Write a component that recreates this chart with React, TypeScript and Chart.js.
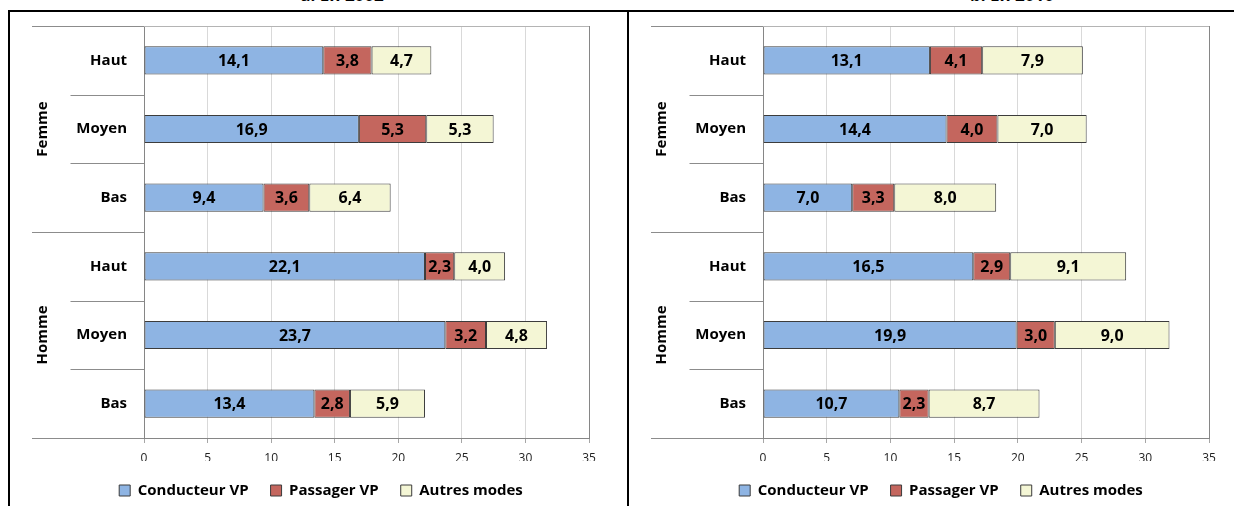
import React, { useEffect, useRef } from "react";
import { Chart, registerables } from "chart.js";

Chart.register(...registerables);

const categories = ["Haut", "Moyen", "Bas", "Haut", "Moyen", "Bas"];
const groups = ["Femme", "Homme"];
const seriesNames = ["Conducteur VP", "Passager VP", "Autres modes"];
const xTicks = [0, 5, 10, 15, 20, 25, 30, 35];
const panelTitles = ["a. En 2002", "b. En 2010"];

const conducteur2002 = [14.1, 16.9, 9.4, 22.1, 23.7, 13.4];
const passager2002 = [3.8, 5.3, 3.6, 2.3, 3.2, 2.8];
const autres2002 = [4.7, 5.3, 6.4, 4.0, 4.8, 5.9];

const conducteur2010 = [13.1, 14.4, 7.0, 16.5, 19.9, 10.7];
const passager2010 = [4.1, 4.0, 3.3, 2.9, 3.0, 2.3];
const autres2010 = [7.9, 7.0, 8.0, 9.1, 9.0, 8.7];

const seriesColors = ["#8EB4E3", "#C4665E", "#F4F6D5"];
const FONT = "'Open Sans', 'DejaVu Sans', sans-serif";
const CANVAS_H = 496;

const valueLabels = {
  id: "valueLabels",
  afterDatasetsDraw(chart: any) {
    const ctx = chart.ctx;
    ctx.save();
    ctx.font = `bold 16px ${FONT}`;
    ctx.fillStyle = "#000";
    ctx.textAlign = "center";
    ctx.textBaseline = "middle";
    chart.data.datasets.forEach((ds: any, di: number) => {
      const meta = chart.getDatasetMeta(di);
      meta.data.forEach((el: any, i: number) => {
        const p = el.getProps(["x", "y", "base"], true);
        const v = ds.data[i] as number;
        ctx.fillText(v.toFixed(1).replace(".", ","), (p.x + p.base) / 2, p.y + 1);
      });
    });
    ctx.restore();
  },
};

const groupAxis = {
  id: "groupAxis",
  afterDraw(chart: any) {
    const { ctx, chartArea } = chart;
    const ys = chart.scales.y;
    const n = categories.length;
    const band = (chartArea.bottom - chartArea.top) / n;
    const fullX = 22;
    const shortX = 60.5;
    ctx.save();
    ctx.lineWidth = 1;
    const yt = Math.round(chartArea.top) + 0.5;
    ctx.strokeStyle = "#B4B4B4";
    ctx.beginPath();
    ctx.moveTo(chartArea.left, yt);
    ctx.lineTo(chartArea.right, yt);
    ctx.stroke();
    ctx.strokeStyle = "#8C8C8C";
    ctx.beginPath();
    ctx.moveTo(fullX, yt);
    ctx.lineTo(chartArea.left, yt);
    ctx.stroke();
    for (let i = 0; i < n; i++) {
      const y = Math.round(ys.getPixelForValue(i) + band / 2) + 0.5;
      const edge = (i + 1) % 3 === 0;
      ctx.beginPath();
      ctx.moveTo(edge ? fullX : shortX, y);
      ctx.lineTo(chartArea.left, y);
      ctx.stroke();
    }
    ctx.fillStyle = "#000";
    ctx.font = `bold 15px ${FONT}`;
    ctx.textAlign = "center";
    ctx.textBaseline = "middle";
    groups.forEach((g, gi) => {
      const yc = (ys.getPixelForValue(gi * 3) + ys.getPixelForValue(gi * 3 + 2)) / 2;
      ctx.save();
      ctx.translate(33, yc);
      ctx.rotate(-Math.PI / 2);
      ctx.fillText(g, 0, 0);
      ctx.restore();
    });
    ctx.restore();
  },
};

function BarPanel(props: {
  conducteur: number[];
  passager: number[];
  autres: number[];
  width: number;
  padLeft: number;
  padRight: number;
}) {
  const ref = useRef<HTMLCanvasElement>(null);
  useEffect(() => {
    const values = [props.conducteur, props.passager, props.autres];
    const chart = new Chart(ref.current as HTMLCanvasElement, {
      type: "bar",
      data: {
        labels: categories,
        datasets: seriesNames.map((name, i) => ({
          label: name,
          data: values[i],
          backgroundColor: seriesColors[i],
          borderColor: "#3C3C3C",
          borderWidth: 1,
          borderSkipped: false,
          categoryPercentage: 1,
          barPercentage: 0.41,
        })),
      },
      options: {
        indexAxis: "y",
        responsive: false,
        animation: false,
        devicePixelRatio: 1,
        layout: { padding: { top: 14, right: props.padRight, left: props.padLeft, bottom: 0 } },
        scales: {
          x: {
            stacked: true,
            min: 0,
            max: 35,
            afterBuildTicks: (scale: any) => {
              scale.ticks = xTicks.map((v) => ({ value: v }));
            },
            afterFit: (scale: any) => {
              scale.height = 23;
              scale.paddingLeft = 0;
              scale.paddingRight = 0;
            },
            ticks: {
              font: { family: FONT, size: 12 },
              color: "#222",
              padding: 8,
              maxRotation: 0,
            },
            grid: {
              color: (c: any) =>
                c.tick && (c.tick.value === 0 || c.tick.value === 35) ? "#868686" : "#D9D9D9",
              tickColor: "#A6A6A6",
              tickLength: 5,
              drawTicks: true,
            },
            border: { display: true, color: "#868686", width: 1 },
          },
          y: {
            stacked: true,
            afterFit: (scale: any) => {
              scale.width = 134 - props.padLeft;
              scale.paddingTop = 0;
              scale.paddingBottom = 0;
            },
            ticks: {
              font: { family: FONT, size: 15, weight: "bold" },
              color: "#000",
              padding: 17,
            },
            grid: { display: false, drawTicks: false },
            border: { display: true, color: "#868686", width: 1 },
          },
        },
        plugins: {
          legend: {
            position: "bottom",
            labels: {
              font: { family: FONT, size: 15, weight: "bold" },
              color: "#000",
              boxWidth: 11,
              boxHeight: 11,
              padding: 22,
            },
          },
          tooltip: { enabled: false },
        },
      } as any,
      plugins: [valueLabels, groupAxis],
    });
    return () => chart.destroy();
  }, []);
  return (
    <canvas
      ref={ref}
      width={props.width}
      height={CANVAS_H}
      style={{ display: "block", width: props.width, height: CANVAS_H }}
    />
  );
}

export default function App() {
  const titleStyle: React.CSSProperties = {
    position: "absolute",
    top: -15,
    width: 200,
    textAlign: "center",
    font: `bold 17px ${FONT}`,
    lineHeight: "20px",
    color: "#000",
    whiteSpace: "nowrap",
  };
  return (
    <div
      style={{
        position: "fixed",
        left: 0,
        top: 0,
        width: 1241,
        height: 506,
        overflow: "hidden",
        background: "#fff",
      }}
    >
      <div style={{ ...titleStyle, left: 242 }}>{panelTitles[0]}</div>
      <div style={{ ...titleStyle, left: 912 }}>{panelTitles[1]}</div>
      <div style={{ position: "absolute", left: 8, top: 10, width: 1226, height: 2, background: "#000" }} />
      <div style={{ position: "absolute", left: 8, top: 10, width: 2, height: 500, background: "#000" }} />
      <div style={{ position: "absolute", left: 627, top: 10, width: 2, height: 500, background: "#000" }} />
      <div style={{ position: "absolute", left: 10, top: 12 }}>
        <BarPanel
          conducteur={conducteur2002}
          passager={passager2002}
          autres={autres2002}
          width={617}
          padLeft={43}
          padRight={38}
        />
      </div>
      <div style={{ position: "absolute", left: 629, top: 12 }}>
        <BarPanel
          conducteur={conducteur2010}
          passager={passager2010}
          autres={autres2010}
          width={612}
          padLeft={44}
          padRight={32}
        />
      </div>
    </div>
  );
}
